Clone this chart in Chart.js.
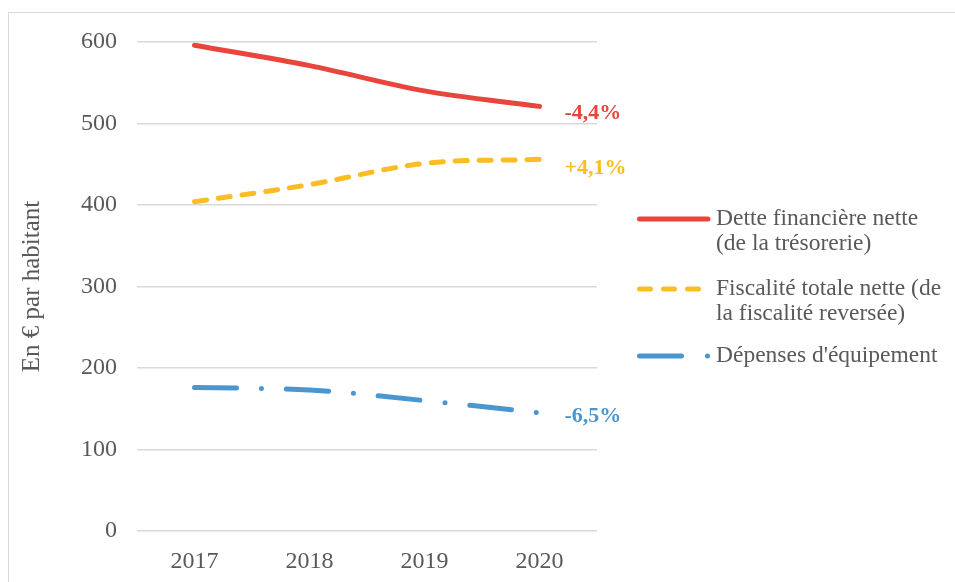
<!DOCTYPE html>
<html>
<head>
<meta charset="utf-8">
<script src="https://cdn.jsdelivr.net/npm/chart.js@4.4.1/dist/chart.umd.min.js"></script>
<style>
  html, body { margin: 0; padding: 0; background: #fff; }
  #wrap { position: relative; width: 955px; height: 582px; overflow: hidden; }
  #frame { position: absolute; left: 8px; top: 12px; width: 980px; height: 620px; border: 1.5px solid #d9d9d9; box-sizing: border-box; }
  canvas { position: absolute; left: 0; top: 0; }
  #legend { position: absolute; left: 637px; top: 205px; font-family: "Liberation Serif", "Times New Roman", serif; font-size: 23.5px; color: #595959; }
  .item { position: absolute; left: 0; white-space: nowrap; }
  .item svg { position: absolute; left: 0; }
  .item span { position: absolute; left: 79px; top: 0px; line-height: 24.5px; }
</style>
</head>
<body>
<div id="wrap">
  <div id="frame"></div>
  <canvas id="c" width="955" height="582"></canvas>
  <div id="legend"></div>
</div>
<script>
const categories = ["2017", "2018", "2019", "2020"];
const seriesNames = [
  "Dette financière nette (de la trésorerie)",
  "Fiscalité totale nette (de la fiscalité reversée)",
  "Dépenses d'équipement"
];
const legendLines = [
  ["Dette financière nette", "(de la trésorerie)"],
  ["Fiscalité totale nette (de", "la fiscalité reversée)"],
  ["Dépenses d'équipement"]
];
const detteValues = [596, 571, 540, 521];
const fiscaliteValues = [404, 425, 451, 456];
const depensesValues = [176, 173, 160, 145];
const variationLabels = ["-4,4%", "+4,1%", "-6,5%"];
const yTicks = [0, 100, 200, 300, 400, 500, 600];

const colors = ["#E8453D", "#FBBC24", "#4A96D0"];
const dashes = [[], [12, 12], [42, 25, 0, 25]];
const labelDy = [7, 9, 3];

const pctPlugin = {
  id: "pct",
  afterDatasetsDraw(chart) {
    const ctx = chart.ctx;
    const xs = chart.scales.x, ys = chart.scales.y;
    ctx.save();
    ctx.font = "bold 22px 'Liberation Serif', serif";
    ctx.textAlign = "left";
    ctx.textBaseline = "middle";
    chart.data.datasets.forEach((ds, i) => {
      const last = ds.data.length - 1;
      const x = xs.getPixelForValue(last) + 25;
      const y = ys.getPixelForValue(ds.data[last]) + labelDy[i];
      ctx.fillStyle = colors[i];
      ctx.fillText(variationLabels[i], x, y);
    });
    ctx.restore();
  }
};

const allData = [detteValues, fiscaliteValues, depensesValues];
new Chart(document.getElementById("c"), {
  type: "line",
  data: {
    labels: categories,
    datasets: allData.map((d, i) => ({
      label: seriesNames[i],
      data: d,
      borderColor: colors[i],
      backgroundColor: colors[i],
      borderWidth: 5,
      borderDash: dashes[i],
      borderCapStyle: "round",
      borderJoinStyle: "round",
      pointRadius: 0,
      tension: 0.35,
      fill: false
    }))
  },
  options: {
    responsive: false,
    animation: false,
    layout: { padding: { top: 42, right: 358, left: 0, bottom: 0 } },
    plugins: { legend: { display: false }, tooltip: { enabled: false } },
    scales: {
      x: {
        offset: true,
        grid: { display: false },
        border: { display: false },
        ticks: { color: "#595959", font: { family: "'Liberation Serif', serif", size: 24 }, padding: 8 },
        afterFit(s) { s.height = 51; }
      },
      y: {
        min: 0, max: 600,
        afterBuildTicks(s) { s.ticks = yTicks.map(v => ({ value: v })); },
        grid: { color: "#d9d9d9", lineWidth: 1.5, drawTicks: false },
        border: { display: false },
        ticks: { color: "#595959", font: { family: "'Liberation Serif', serif", size: 24 }, padding: 20 },
        title: { display: true, text: "En € par habitant", color: "#595959", font: { family: "'Liberation Serif', serif", size: 25 }, padding: { top: 17, bottom: 0 } },
        afterFit(s) { s.width = 137; }
      }
    }
  },
  plugins: [pctPlugin]
});

// Legend
const legend = document.getElementById("legend");
const tops = [0, 70, 137];
legendLines.forEach((lines, i) => {
  const item = document.createElement("div");
  item.className = "item";
  item.style.top = tops[i] + "px";
  const svgNS = "http://www.w3.org/2000/svg";
  const svg = document.createElementNS(svgNS, "svg");
  svg.setAttribute("width", "76"); svg.setAttribute("height", "24");
  svg.style.top = "0px";
  const ln = document.createElementNS(svgNS, "line");
  ln.setAttribute("x1", "2.5"); ln.setAttribute("x2", "71");
  ln.setAttribute("y1", "14"); ln.setAttribute("y2", "14");
  ln.setAttribute("stroke", colors[i]); ln.setAttribute("stroke-width", "5");
  ln.setAttribute("stroke-linecap", "round");
  if (i === 1) ln.setAttribute("stroke-dasharray", "11 13");
  if (i === 2) ln.setAttribute("stroke-dasharray", "42 26 0 40");
  svg.appendChild(ln);
  item.appendChild(svg);
  const span = document.createElement("span");
  span.innerHTML = lines.join("<br>");
  item.appendChild(span);
  legend.appendChild(item);
});
</script>
</body>
</html>
